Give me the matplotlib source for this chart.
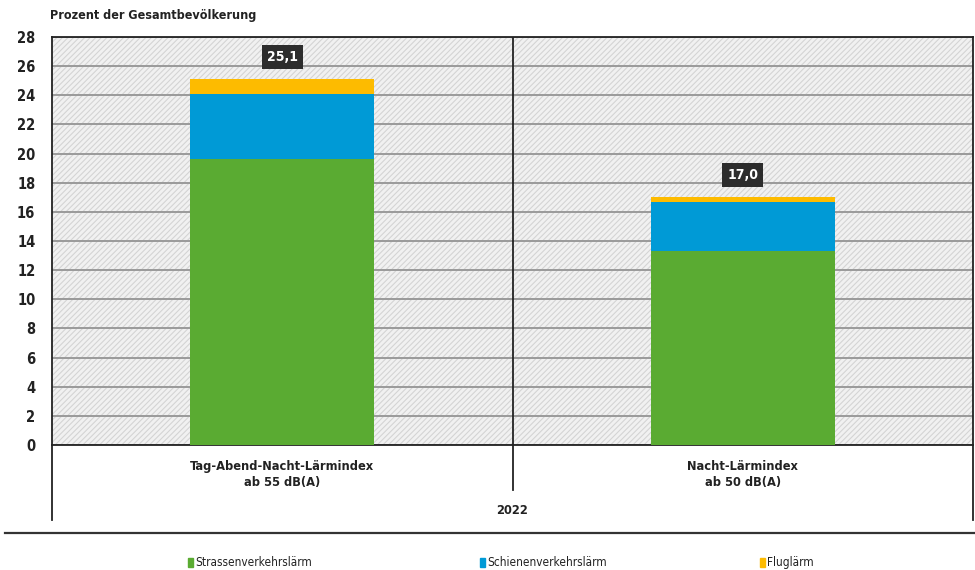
import matplotlib
matplotlib.use("Agg")
import matplotlib.pyplot as plt
import matplotlib.patches as mpatches
from matplotlib.lines import Line2D
import numpy as np

plt.rcParams['font.family'] = ['DejaVu Sans']
plt.rcParams['font.stretch'] = 'condensed'
plt.rcParams['hatch.color'] = '#d4d4d4'
plt.rcParams['hatch.linewidth'] = 0.8

# ----------------------------------------------------------------------
categories = ["Tag-Abend-Nacht-Lärmindex\nab 55 dB(A)", "Nacht-Lärmindex\nab 50 dB(A)"]
year = "2022"
series = ["Strassenverkehrslärm", "Schienenverkehrslärm", "Fluglärm"]
strasse = [19.6, 13.3]
schiene = [4.5, 3.4]
flug = [1.0, 0.3]
totals = [25.1, 17.0]
colors = ["#5aab32", "#009ad6", "#fdbb00"]
yticks = list(range(0, 29, 2))

fig = plt.figure(figsize=(9.75, 5.7), dpi=100)
ax = fig.add_axes([52 / 975, 125 / 570, 921 / 975, 408 / 570])

# hatched background
ax.set_facecolor('#f1f1f1')
ax.add_patch(mpatches.Rectangle((0, 0), 1, 1, transform=ax.transAxes,
                                facecolor='none', edgecolor='#d4d4d4',
                                hatch='//////', lw=0, zorder=0))

x = np.arange(len(categories))
width = 0.4
bottom = np.zeros(len(categories))
for vals, col in zip([strasse, schiene, flug], colors):
    ax.bar(x, vals, width, bottom=bottom, color=col, zorder=3)
    bottom += np.array(vals)

# total value boxes
for xi, t in zip(x, totals):
    ax.annotate(f"{t:.1f}".replace('.', ','), (xi, t), xytext=(0, 16),
                textcoords='offset points', ha='center', va='center',
                color='white', fontsize=10, fontweight='bold', zorder=5,
                bbox=dict(boxstyle='square,pad=0.35', fc='#2d2d2d', ec='none'))

ax.set_xlim(-0.5, len(categories) - 0.5)
ax.set_ylim(0, 28)
ax.set_yticks(yticks)
ax.set_yticklabels([str(v) for v in yticks], fontsize=10.5, fontweight='bold',
                   color='#222222')
ax.tick_params(axis='y', length=0, pad=12)
ax.set_xticks([])
ax.yaxis.grid(True, color='#9a9a9a', lw=1.4, zorder=1)
ax.set_axisbelow(True)
for s in ax.spines.values():
    s.set_color('#222222')
    s.set_linewidth(1.3)
ax.axvline(0.5, color='#222222', lw=1.3, zorder=2)

# category labels and year below the axis
for xi, cat in zip(x, categories):
    ax.text(xi, -1.0, cat, ha='center', va='top', fontsize=9.2,
            fontweight='bold', color='#222222', linespacing=1.35)
ax.text(0.5, -4.5, year, ha='center', va='center', fontsize=9.2,
        fontweight='bold', color='#222222')

lc = '#222222'
fig.add_artist(Line2D([52 / 975, 52 / 975], [125 / 570, 50 / 570], color=lc, lw=1.3))
fig.add_artist(Line2D([513 / 975, 513 / 975], [125 / 570, 80 / 570], color=lc, lw=1.3))
fig.add_artist(Line2D([973 / 975, 973 / 975], [125 / 570, 50 / 570], color=lc, lw=1.3))
fig.add_artist(Line2D([5 / 975, 975 / 975], [37 / 570, 37 / 570], color='#333333', lw=1.6))

fig.text(50 / 975, 555 / 570, "Prozent der Gesamtbevölkerung",
         ha='left', va='center', fontsize=9, fontweight='bold', color='#222222')

# legend
leg_x = [188, 480, 760]
for lx, name, col in zip(leg_x, series, colors):
    fig.add_artist(mpatches.Rectangle((lx / 975, 3 / 570), 5 / 975, 9 / 570,
                                      color=col, transform=fig.transFigure))
    fig.text((lx + 7) / 975, 7.5 / 570, name, ha='left', va='center',
             fontsize=8.5, color='#222222')

fig.savefig("out.png", dpi=100)
